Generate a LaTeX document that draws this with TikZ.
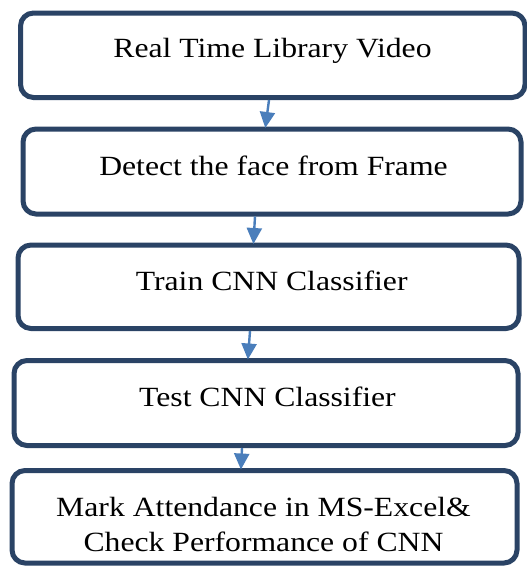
\documentclass[tikz,border=0pt]{standalone}
\usepackage{fontspec}
\setmainfont{Liberation Serif}[FakeStretch=1.14]
\usetikzlibrary{arrows.meta}
\definecolor{boxline}{HTML}{2A4365}
\definecolor{flowblue}{HTML}{4A7EBB}
\begin{document}
\begin{tikzpicture}[x=1pt,y=-1pt,
  stepbox/.style={draw=boxline, line width=5pt, rounded corners=13pt,
    rectangle, inner sep=0pt, fill=white},
  steptext/.style={anchor=base, inner sep=0pt, text=black,
    font=\fontsize{27.8}{35.7}\selectfont},
  flow/.style={draw=flowblue, line width=2.4pt,
    -{Triangle[width=15pt,length=16pt]}, shorten >=-1.5pt}]
\useasboundingbox (0,0) rectangle (527,568);

% process boxes
\node[stepbox, minimum width=504.5pt, minimum height=84.5pt] (b1) at (272.75,55.25) {};
\node[stepbox, minimum width=498pt,   minimum height=85pt]   (b2) at (272,171.5) {};
\node[stepbox, minimum width=501pt,   minimum height=83.5pt] (b3) at (268.5,286.75) {};
\node[stepbox, minimum width=504pt,   minimum height=85pt]   (b4) at (266,403) {};
\node[stepbox, minimum width=505pt,   minimum height=92.5pt] (b5) at (264.5,516.75) {};

% labels (the two-line label sits on the baseline of its last line)
\node[steptext] (t1) at (272.5,57.3) {Real Time Library Video};
\node[steptext] (t2) at (273.5,175) {Detect the face from Frame};
\node[steptext] (t3) at (271.7,290) {Train CNN Classifier};
\node[steptext] (t4) at (267.5,406) {Test CNN Classifier};
\node[steptext, align=center] (t5) at (263.5,551.7) {Mark Attendance in MS-Excel\&\\Check Performance of CNN};

% connectors
\draw[flow] ([xshift=-3.75pt]b1.south) -- ([xshift=-6.5pt]b2.north);
\draw[flow] ([xshift=-17pt]b2.south) -- ([xshift=-15pt]b3.north);
\draw[flow] ([xshift=-18.5pt]b3.south) -- ([xshift=-18pt]b4.north);
\draw[flow] ([xshift=-24pt]b4.south) -- ([xshift=-23.5pt]b5.north);
\end{tikzpicture}
\end{document}
